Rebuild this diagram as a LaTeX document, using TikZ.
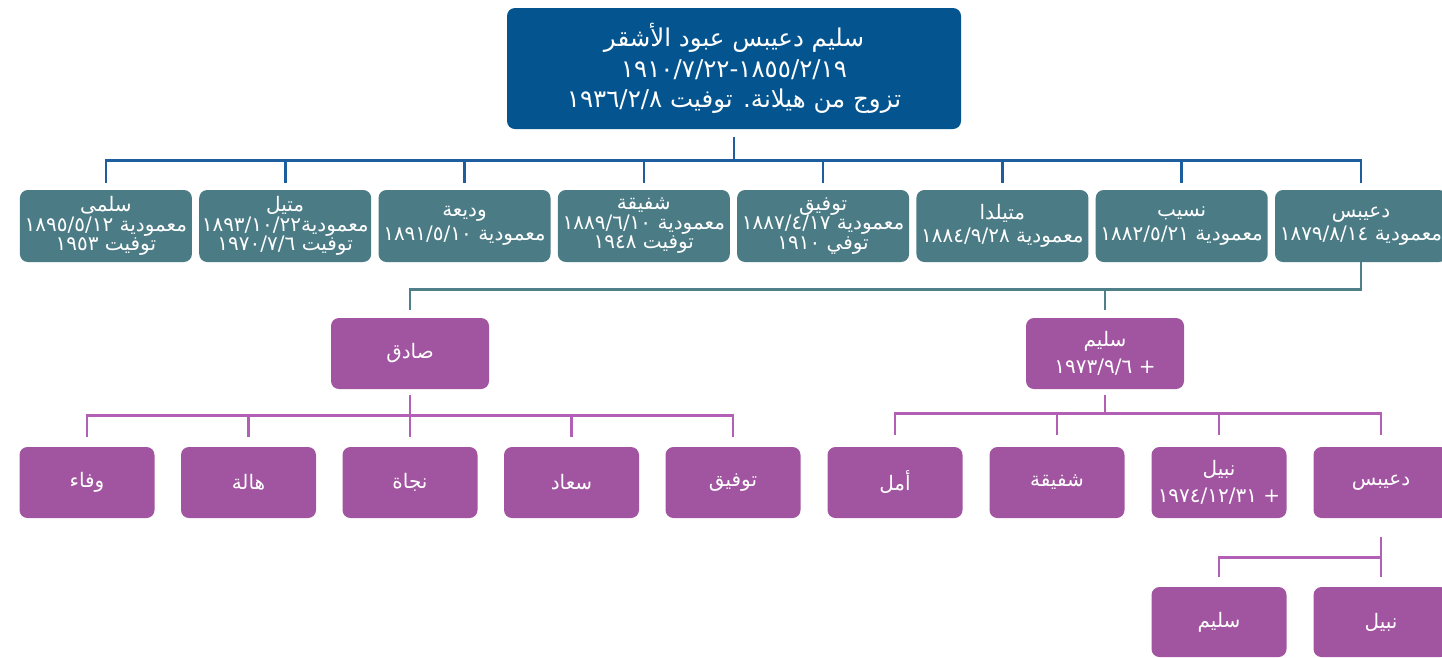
\documentclass[tikz,border=0pt]{standalone}
\usepackage{fontspec}
\usepackage{tikz}
\usetikzlibrary{positioning}
\TeXXeTstate=1
\newfontfamily\arabicfont[Script=Arabic]{DejaVu Sans}
\definecolor{rootblue}{HTML}{03548F}
\definecolor{tealbox}{HTML}{4B7B85}
\definecolor{plumbox}{HTML}{A154A0}
\definecolor{bluelink}{HTML}{1F5E9E}
\definecolor{teallink}{HTML}{4F8089}
\definecolor{plumlink}{HTML}{B25FB6}
\tikzstyle{topnode}=[
    fill=rootblue,  % dark blue box for the ancestor
    rectangle,      % plain box with round corners
    rounded corners=8pt,
    text=white,
    inner sep=2pt,
    minimum width=454pt,
    minimum height=121pt,
    align=center,
    font=\arabicfont\fontsize{24.5}{30.5}\selectfont]
\tikzstyle{tealnode}=[
    fill=tealbox,   % grey-blue box for the children
    rectangle,
    rounded corners=8pt,
    text=white,
    inner sep=1pt,
    minimum width=172pt,
    minimum height=72pt,
    align=center,
    font=\arabicfont\fontsize{20}{23.5}\selectfont]
\tikzstyle{packed}=[
    font=\arabicfont\fontsize{20}{19.5}\selectfont]
\tikzstyle{plumnode}=[
    fill=plumbox,   % purple box for the grandchildren
    rectangle,
    rounded corners=8pt,
    text=white,
    inner sep=1pt,
    minimum width=135pt,
    minimum height=71pt,
    align=center,
    font=\arabicfont\fontsize{20}{27}\selectfont]
\tikzstyle{bluewire}=[draw=bluelink, line width=2.6pt]
\tikzstyle{tealwire}=[draw=teallink, line width=2.6pt]
\tikzstyle{plumwire}=[draw=plumlink, line width=2.6pt]

\begin{document}
\begin{tikzpicture}[x=1pt, y=1pt]
        \useasboundingbox (0,0) rectangle (1442,-657);
        \clip (0,0) rectangle (1442,-657);

        % The ancestor
        \node[topnode] (salim1) at (734,-68.5) {\beginR سليم دعيبس عبود الأشقر\endR\\
            \beginL\hbox{١٩١٠/٧/٢٢}\hbox{-}\hbox{١٨٥٥/٢/١٩}\endL\\
            \beginR تزوج من هيلانة. توفيت \beginL\hbox{١٩٣٦/٢/٨}\endL\endR};

        % His children, from right to left
        \node[tealnode] (duaybis2) at (1361,-226) {\beginR دعيبس\endR\\
            \beginR معمودية \beginL\hbox{١٨٧٩/٨/١٤}\endL\endR};
        \node[tealnode, left of=duaybis2, node distance=179.3pt] (nasib2) {\beginR نسيب\endR\\
            \beginR معمودية \beginL\hbox{١٨٨٢/٥/٢١}\endL\endR};
        \node[tealnode, left of=nasib2, node distance=179.3pt] (matilda2) {\beginR متيلدا\endR\\
            \beginR معمودية \beginL\hbox{١٨٨٤/٩/٢٨}\endL\endR};
        \node[tealnode, packed, left of=matilda2, node distance=179.3pt] (tawfiq2) {\beginR توفيق\endR\\
            \beginR معمودية \beginL\hbox{١٨٨٧/٤/١٧}\endL\endR\\
            \beginR توفي \beginL\hbox{١٩١٠}\endL\endR};
        \node[tealnode, packed, left of=tawfiq2, node distance=179.3pt] (shafiqa2) {\beginR شفيقة\endR\\
            \beginR معمودية \beginL\hbox{١٨٨٩/٦/١٠}\endL\endR\\
            \beginR توفيت \beginL\hbox{١٩٤٨}\endL\endR};
        \node[tealnode, left of=shafiqa2, node distance=179.3pt] (wadia2) {\beginR وديعة\endR\\
            \beginR معمودية \beginL\hbox{١٨٩١/٥/١٠}\endL\endR};
        \node[tealnode, packed, left of=wadia2, node distance=179.3pt] (metil2) {\beginR متيل\endR\\
            \beginR معمودية\beginL\hbox{١٨٩٣/١٠/٢٢}\endL\endR\\
            \beginR توفيت \beginL\hbox{١٩٧٠/٧/٦}\endL\endR};
        \node[tealnode, packed, left of=metil2, node distance=179.3pt] (salma2) {\beginR سلمى\endR\\
            \beginR معمودية \beginL\hbox{١٨٩٥/٥/١٢}\endL\endR\\
            \beginR توفيت \beginL\hbox{١٩٥٣}\endL\endR};

        % Sons of Duaybis
        \node[plumnode, minimum width=158pt] (sadiq3) at (410,-353.5) {\beginR صادق\endR};
        \node[plumnode, minimum width=158pt] (salim3) at (1105,-353.5) {\beginR سليم\endR\\
            \beginR + \beginL\hbox{١٩٧٣/٩/٦}\endL\endR};

        % Children of Sadiq
        \node[plumnode] (tawfiq4) at (733,-482.5) {\beginR توفيق\endR};
        \node[plumnode, left of=tawfiq4, node distance=161.5pt] (suad4) {\beginR سعاد\endR};
        \node[plumnode, left of=suad4, node distance=161.5pt] (najat4) {\beginR نجاة\endR};
        \node[plumnode, left of=najat4, node distance=161.5pt] (hala4) {\beginR هالة\endR};
        \node[plumnode, left of=hala4, node distance=161.5pt] (wafa4) {\beginR وفاء\endR};

        % Children of Salim
        \node[plumnode] (duaybis4) at (1381,-482.5) {\beginR دعيبس\endR};
        \node[plumnode, left of=duaybis4, node distance=162pt] (nabil4) {\beginR نبيل\endR\\
            \beginR + \beginL\hbox{١٩٧٤/١٢/٣١}\endL\endR};
        \node[plumnode, left of=nabil4, node distance=162pt] (shafiqa4) {\beginR شفيقة\endR};
        \node[plumnode, left of=shafiqa4, node distance=162pt] (amal4) {\beginR أمل\endR};

        % Children of Duaybis
        \node[plumnode, minimum height=70pt] (nabil5) at (1381,-622) {\beginR نبيل\endR};
        \node[plumnode, minimum height=70pt, left of=nabil5, node distance=162pt] (salim5) {\beginR سليم\endR};

        % Connect parents with children
        \foreach \k in {salma2,metil2,wadia2,shafiqa2,tawfiq2,matilda2,nasib2,duaybis2}
            \draw[bluewire] ([yshift=-8pt]salim1.south) -- ++(0,-23pt) -| ([yshift=7pt]\k.north);
        \foreach \k in {sadiq3,salim3}
            \draw[tealwire] (duaybis2.south) -- ++(0,-27pt) -| ([yshift=8pt]\k.north);
        \foreach \k in {wafa4,hala4,najat4,suad4,tawfiq4}
            \draw[plumwire] ([yshift=-6pt]sadiq3.south) -- ++(0,-20pt) -| ([yshift=10pt]\k.north);
        \foreach \k in {amal4,shafiqa4,nabil4,duaybis4}
            \draw[plumwire] ([yshift=-6pt]salim3.south) -- ++(0,-18pt) -| ([yshift=12pt]\k.north);
        \foreach \k in {salim5,nabil5}
            \draw[plumwire] ([yshift=-19pt]duaybis4.south) -- ++(0,-20pt) -| ([yshift=10pt]\k.north);
\end{tikzpicture}
\end{document}
